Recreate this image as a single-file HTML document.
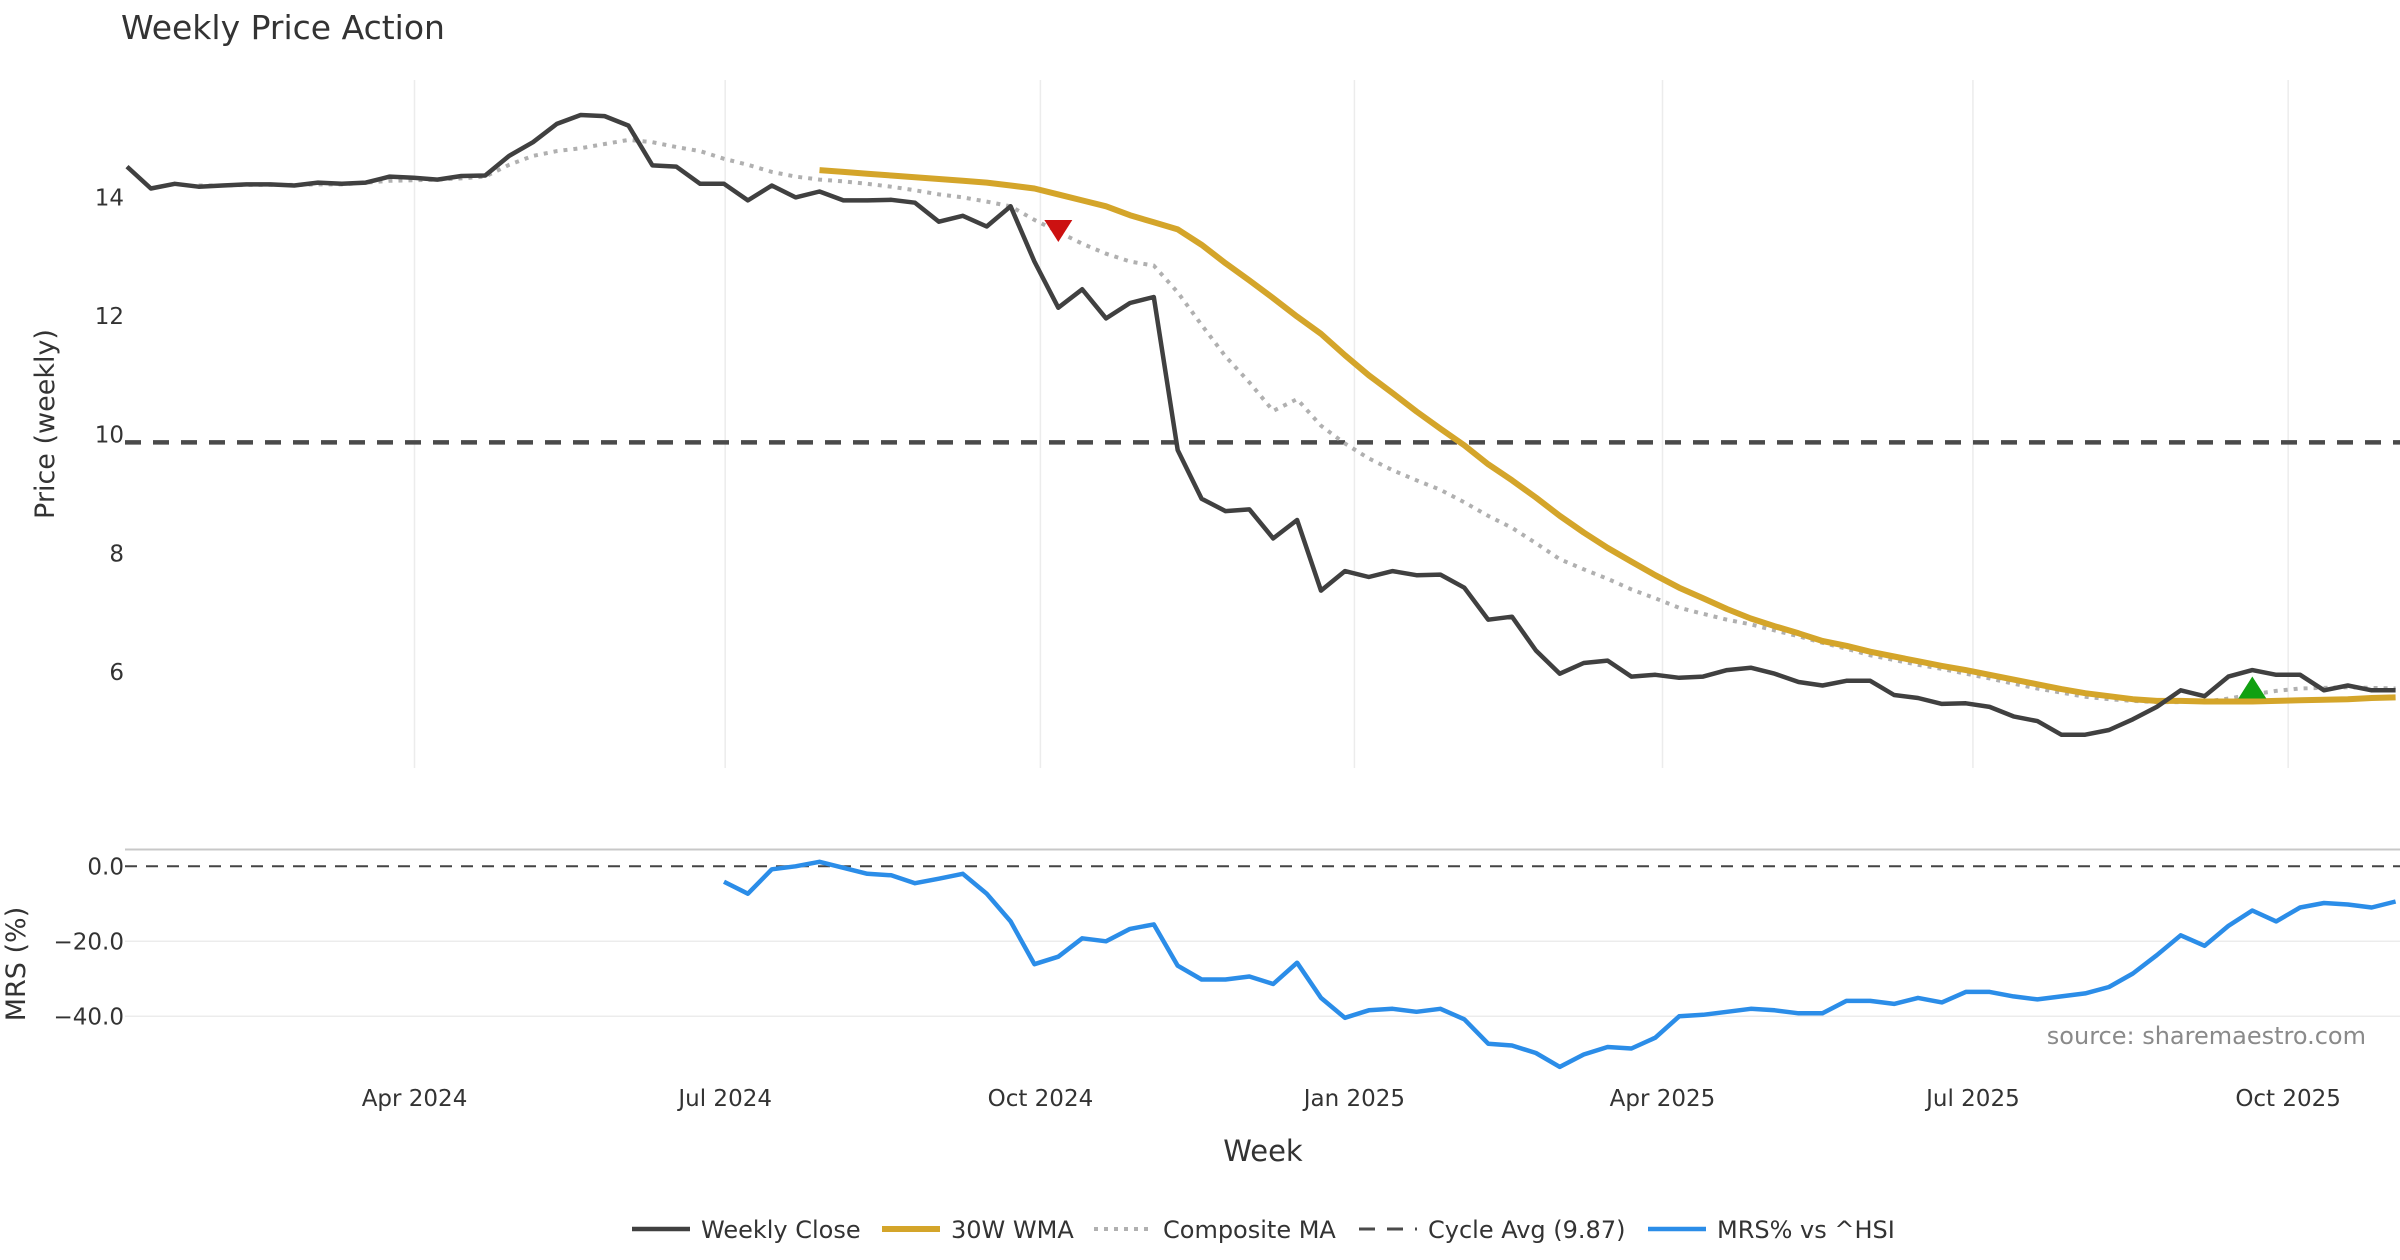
<!DOCTYPE html>
<html><head><meta charset="utf-8"><title>Weekly Price Action</title>
<style>
html,body{margin:0;padding:0;background:#fff;}
svg{display:block;font-family:"DejaVu Sans","Liberation Sans",sans-serif;}
</style></head>
<body>
<svg id="chart" width="2400" height="1260" viewBox="0 0 2400 1260" xmlns="http://www.w3.org/2000/svg">
<rect width="2400" height="1260" fill="#fff"/>
<text x="121" y="39" font-size="33" fill="#333">Weekly Price Action</text>
<g id="grid"></g>
<g id="plot"></g>
<g id="mrs"></g>
<g id="axes"></g>
<text transform="translate(54,424) rotate(-90)" text-anchor="middle" font-size="27" fill="#333">Price (weekly)</text>
<text transform="translate(25,964) rotate(-90)" text-anchor="middle" font-size="27" fill="#333">MRS (%)</text>
<text x="1263" y="1161" text-anchor="middle" font-size="29" fill="#333">Week</text>
<text x="2366" y="1044" text-anchor="end" font-size="24" fill="#8a8a8a">source: sharemaestro.com</text>
<g id="legend"></g>
</svg>
<script>
const closeVals=[14.52,14.15,14.23,14.18,14.2,14.22,14.22,14.2,14.25,14.23,14.25,14.35,14.33,14.3,14.36,14.37,14.7,14.93,15.24,15.39,15.37,15.21,14.54,14.52,14.23,14.23,13.95,14.2,14.0,14.1,13.95,13.95,13.96,13.91,13.59,13.69,13.51,13.85,12.92,12.14,12.45,11.96,12.22,12.32,9.74,8.92,8.71,8.74,8.25,8.56,7.37,7.7,7.6,7.7,7.63,7.64,7.42,6.88,6.93,6.36,5.97,6.15,6.19,5.92,5.95,5.9,5.92,6.03,6.07,5.97,5.83,5.77,5.85,5.85,5.61,5.56,5.46,5.47,5.41,5.25,5.17,4.94,4.94,5.02,5.2,5.41,5.69,5.59,5.92,6.03,5.95,5.95,5.69,5.77,5.69,5.69];
const wmaStart=29;
const wmaVals=[14.46,14.43,14.4,14.37,14.34,14.31,14.28,14.25,14.2,14.15,14.05,13.95,13.85,13.7,13.58,13.46,13.2,12.89,12.6,12.3,11.99,11.7,11.34,11.0,10.7,10.39,10.1,9.82,9.5,9.23,8.94,8.63,8.35,8.09,7.86,7.63,7.42,7.24,7.06,6.9,6.77,6.65,6.52,6.44,6.34,6.26,6.18,6.1,6.03,5.95,5.87,5.79,5.71,5.64,5.59,5.54,5.51,5.51,5.5,5.5,5.5,5.51,5.52,5.53,5.54,5.56,5.57];
const compStart=3;
const compVals=[14.2,14.2,14.21,14.21,14.21,14.22,14.22,14.25,14.28,14.29,14.3,14.32,14.35,14.55,14.7,14.78,14.83,14.9,14.97,14.93,14.85,14.78,14.65,14.55,14.43,14.35,14.3,14.27,14.23,14.18,14.12,14.05,14.0,13.93,13.85,13.62,13.42,13.22,13.05,12.92,12.85,12.4,11.85,11.32,10.88,10.4,10.6,10.15,9.85,9.6,9.4,9.23,9.07,8.86,8.63,8.43,8.17,7.9,7.73,7.57,7.39,7.24,7.08,6.98,6.88,6.8,6.7,6.6,6.49,6.39,6.28,6.2,6.12,6.05,5.97,5.89,5.8,5.72,5.65,5.58,5.54,5.51,5.49,5.49,5.5,5.55,5.62,5.68,5.72,5.73,5.74,5.73,5.72];
const mrsStart=25;
const mrsVals=[-4.1,-7.3,-0.8,0,1.2,-0.4,-2,-2.4,-4.5,-3.3,-2,-7.3,-14.7,-26.1,-24.1,-19.2,-20,-16.7,-15.5,-26.5,-30.2,-30.2,-29.4,-31.4,-25.7,-35.1,-40.4,-38.4,-38,-38.8,-38,-40.8,-47.3,-47.8,-49.8,-53.5,-50.2,-48.2,-48.6,-45.7,-40,-39.6,-38.8,-38,-38.4,-39.2,-39.2,-35.9,-35.9,-36.7,-35.1,-36.3,-33.5,-33.5,-34.7,-35.5,-34.7,-33.9,-32.2,-28.6,-23.7,-18.4,-21.2,-15.9,-11.8,-14.7,-11,-9.8,-10.2,-11,-9.4];
const cycleAvg=9.87;
const priceTicks=[6,8,10,12,14];
const mrsTicks=[0,-20,-40];
const mrsTickLabels=["0.0","\u221220.0","\u221240.0"];
const monthLabels=["Apr 2024","Jul 2024","Oct 2024","Jan 2025","Apr 2025","Jul 2025","Oct 2025"];
const monthWeek=[12.04,25.05,38.25,51.4,64.3,77.3,90.5];
const sellSignal=[39,13.45];
const buySignal=[89,5.72];

const NS="http://www.w3.org/2000/svg";
const X=i=>127+23.88*i;
const Y=v=>197.4-(v-14)*59.31;
const YM=v=>866.3-v*3.75;
function mk(tag,attrs,parent){const e=document.createElementNS(NS,tag);for(const k in attrs)e.setAttribute(k,attrs[k]);parent.appendChild(e);return e;}
const grid=document.getElementById('grid'),plot=document.getElementById('plot'),mrs=document.getElementById('mrs'),axes=document.getElementById('axes'),legend=document.getElementById('legend');

monthWeek.forEach((w,k)=>{
  const g=mk('line',{x1:X(w),x2:X(w),y1:80,y2:768,stroke:'#ececec','stroke-width':1.5},grid);
  
  
  const t=mk('text',{x:X(w),y:1106,'text-anchor':'middle','font-size':23,fill:'#333'},axes);
  t.textContent=monthLabels[k];
  
  
});
priceTicks.forEach(v=>{
  const t=mk('text',{x:124,y:Y(v)+8,'text-anchor':'end','font-size':23,fill:'#333'},axes);
  t.textContent=v;
  
  
});
mrsTicks.forEach((v,k)=>{
  if(v!==0){const g=mk('line',{x1:125,x2:2400,y1:YM(v),y2:YM(v),stroke:'#ececec','stroke-width':1.5},grid);
  
  }
  const t=mk('text',{x:124,y:YM(v)+8,'text-anchor':'end','font-size':23,fill:'#333'},axes);
  t.textContent=mrsTickLabels[k];
  
  
});
const border=mk('line',{x1:125,x2:2400,y1:849.5,y2:849.5,stroke:'#c8c8c8','stroke-width':2},grid);



function pts(vals,start,yf){return vals.map((v,k)=>X(start+k).toFixed(1)+','+yf(v).toFixed(1)).join(' ');}

const cyc=mk('line',{x1:125,x2:2400,y1:Y(cycleAvg),y2:Y(cycleAvg),stroke:'#4a4a4a','stroke-width':4.5,'stroke-dasharray':'16,12'},plot);


const comp=mk('polyline',{points:pts(compVals,compStart,Y),fill:'none',stroke:'#b0b0b0','stroke-width':4,'stroke-dasharray':'4,6'},plot);


const wma=mk('polyline',{points:pts(wmaVals,wmaStart,Y),fill:'none',stroke:'#d4a52a','stroke-width':6,'stroke-linejoin':'round'},plot);


const cl=mk('polyline',{points:pts(closeVals,0,Y),fill:'none',stroke:'#404040','stroke-width':4.5,'stroke-linejoin':'round'},plot);


{const sx=X(sellSignal[0]),sy=Y(sellSignal[1]);
const s=mk('polygon',{points:`${sx-14},${sy-10} ${sx+14},${sy-10} ${sx},${sy+12}`,fill:'#cc1111'},plot);

}
{const bx=X(buySignal[0]),by=Y(buySignal[1]);
const b=mk('polygon',{points:`${bx-14},${by+10} ${bx+14},${by+10} ${bx},${by-12}`,fill:'#11a011'},plot);

}

const zero=mk('line',{x1:125,x2:2400,y1:YM(0),y2:YM(0),stroke:'#444','stroke-width':2,'stroke-dasharray':'12,9'},mrs);


const ml=mk('polyline',{points:pts(mrsVals,mrsStart,YM),fill:'none',stroke:'#2b8de8','stroke-width':4.5,'stroke-linejoin':'round'},mrs);



const legItems=[
 {x:632,t:'Weekly Close',c:'#404040',w:4.5,d:''},
 {x:882,t:'30W WMA',c:'#d4a52a',w:6,d:''},
 {x:1094,t:'Composite MA',c:'#b0b0b0',w:4,d:'4,6'},
 {x:1359,t:'Cycle Avg (9.87)',c:'#4a4a4a',w:3,d:'16,12'},
 {x:1648,t:'MRS% vs ^HSI',c:'#2b8de8',w:4.5,d:''}];
legItems.forEach(it=>{
  const g=mk('g',{},legend);
  
  
  const a={x1:it.x,x2:it.x+58,y1:1229,y2:1229,stroke:it.c,'stroke-width':it.w};
  if(it.d)a['stroke-dasharray']=it.d;
  const l=mk('line',a,g);
  
  
  const t=mk('text',{x:it.x+69,y:1238,'font-size':24,fill:'#333'},g);
  t.textContent=it.t;
  
  
});
</script>
</body></html>
